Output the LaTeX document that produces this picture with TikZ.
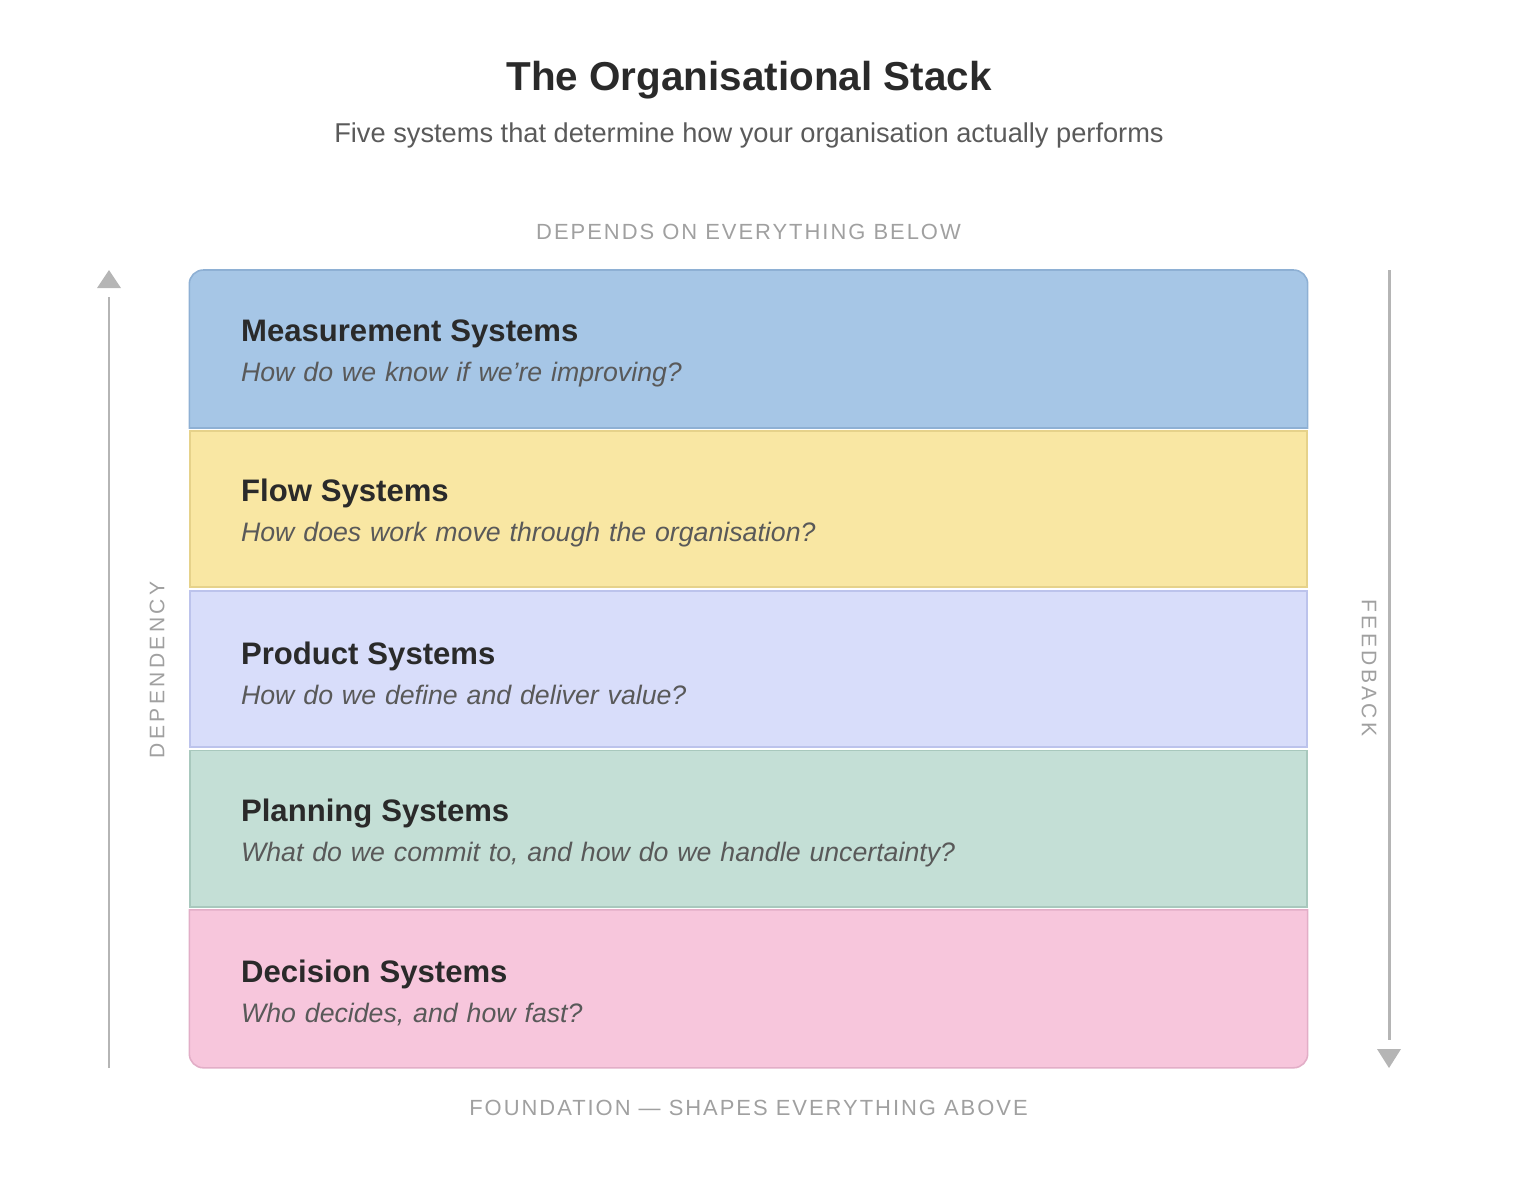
\documentclass[tikz,border=0pt]{standalone}
\usepackage{fontspec}
\setmainfont{Liberation Sans}
\newfontfamily\capsfont[LetterSpace=9]{Liberation Sans}
\newfontfamily\sidefont[LetterSpace=16]{Liberation Sans}
\usepackage{xcolor}
\usepackage{tikz}
\usetikzlibrary{positioning,backgrounds}

\definecolor{headdark}{HTML}{2A2A2A}
\definecolor{subgray}{HTML}{5A5A5A}
\definecolor{questgray}{HTML}{595959}
\definecolor{capsgray}{HTML}{A0A0A0}
\definecolor{axisgray}{HTML}{B5B5B5}
\definecolor{measurefill}{HTML}{A6C6E6}
\definecolor{measureline}{HTML}{8EB0D4}
\definecolor{flowfill}{HTML}{F9E7A3}
\definecolor{flowline}{HTML}{E6D28A}
\definecolor{productfill}{HTML}{D8DDFA}
\definecolor{productline}{HTML}{BCC3EC}
\definecolor{planningfill}{HTML}{C4DFD6}
\definecolor{planningline}{HTML}{A8C8BD}
\definecolor{decisionfill}{HTML}{F7C6DC}
\definecolor{decisionline}{HTML}{E2AEC7}

\newcommand{\layertext}[2]{\rule{0pt}{17.5pt}{\color{headdark}\fontsize{17.7}{22.7}\selectfont\bfseries #1}\\{\itshape #2}}

\begin{document}
\begin{tikzpicture}[x=0.02cm, y=-0.02cm,
    stackband/.style={rectangle, minimum height=3.128cm, text width=20.3cm, inner xsep=1.02cm, inner ysep=0pt,
        align=left, line width=0.9pt, text=questgray, font=\fontsize{15.2}{22.7}\selectfont},
    capslabel/.style={inner sep=0pt, text=capsgray, font=\capsfont\fontsize{12.5}{15}\selectfont},
    sidelabel/.style={inner sep=0pt, text=capsgray, font=\sidefont\fontsize{12}{15}\selectfont},
    axisline/.style={draw=axisgray, line width=1.7pt}]
    \useasboundingbox (0,0) rectangle (1514,1180);

    % heading
    \node [anchor=base, text=headdark, font=\bfseries\fontsize{23}{28}\selectfont] (title) at (749,90) {The Organisational Stack};
    \node [anchor=base, text=subgray, font=\fontsize{15.5}{19}\selectfont] (subtitle) at (749,142) {Five systems that determine how your organisation actually performs};

    % the five layers
    \node [stackband] (measure) at (748.5,349) {\layertext{Measurement Systems}{How do we know if we're improving?}};
    \node [stackband, fill=flowfill, draw=flowline, below=0.04cm of measure] (flow) {\layertext{Flow Systems}{How does work move through the organisation?}};
    \node [stackband, fill=productfill, draw=productline, below=0.04cm of flow] (product) {\layertext{Product Systems}{How do we define and deliver value?}};
    \node [stackband, fill=planningfill, draw=planningline, below=0.04cm of product] (planning) {\layertext{Planning Systems}{What do we commit to, and how do we handle uncertainty?}};
    \node [stackband, below=0.04cm of planning] (decision) {\layertext{Decision Systems}{Who decides, and how fast?}};

    \begin{scope}[on background layer]
        \filldraw [fill=measurefill, draw=measureline, line width=0.9pt] (measure.south west) [rounded corners=0.28cm] -- (measure.north west) -- (measure.north east) [sharp corners] -- (measure.south east) -- cycle;
        \filldraw [fill=decisionfill, draw=decisionline, line width=0.9pt] (decision.north west) [rounded corners=0.28cm] -- (decision.south west) -- (decision.south east) [sharp corners] -- (decision.north east) -- cycle;
    \end{scope}

    \node [capslabel, above=0.6cm of measure] (toplabel) {DEPENDS ON EVERYTHING BELOW};
    \node [capslabel, below=0.64cm of decision] (baselabel) {FOUNDATION — SHAPES EVERYTHING ABOVE};

    % dependency axis
    \coordinate (deptail) at (109,1068);
    \coordinate (dephead) at (109,297);
    \coordinate (deptip) at (109,270);
    \draw [axisline] (deptail) -- (dephead);
    \fill [axisgray] (deptip) -- ++(12,18) -- ++(-24,0) -- cycle;
    \node [sidelabel, rotate=90] (deplabel) at (157,670) {DEPENDENCY};

    % feedback axis
    \coordinate (fbtail) at (1389,270);
    \coordinate (fbhead) at (1389,1040);
    \coordinate (fbtip) at (1389,1068);
    \draw [axisline] (fbtail) -- (fbhead);
    \fill [axisgray] (fbtip) -- ++(12,-19) -- ++(-24,0) -- cycle;
    \node [sidelabel, rotate=-90] (fblabel) at (1369,668) {FEEDBACK};
\end{tikzpicture}
\end{document}
